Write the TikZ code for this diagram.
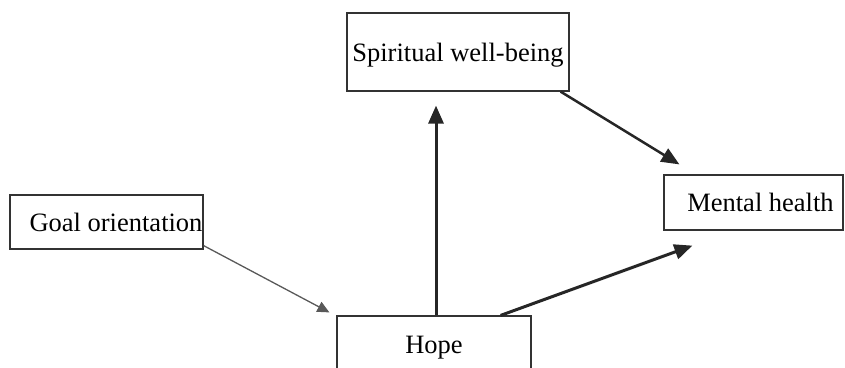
\documentclass[tikz,border=0pt]{standalone}
\usepackage{fontspec}
\setmainfont{Liberation Serif}
\usetikzlibrary{arrows.meta}

\begin{document}
\begin{tikzpicture}[x=1pt, y=-1pt, >={Triangle[length=18pt, width=15pt]},
	box/.style={draw=black!80, line width=1.2pt, inner sep=0pt, text height=18pt, text depth=0pt, font=\fontsize{26.5}{30}\selectfont}]
	\useasboundingbox (0, 0) rectangle (845, 367);

	\node[box, minimum width=222pt, minimum height=78pt] (SW) at (458, 52) {Spiritual well-being};
	\node[box, minimum width=193pt, minimum height=54pt] (GO) at (106.5, 222) {\hspace*{19pt}Goal orientation};
	\node[box, minimum width=179pt, minimum height=55pt] (MH) at (753.5, 202.5) {\hspace*{14pt}Mental health};
	\node[box, minimum width=194pt, minimum height=56pt] (H) at (434, 344) {Hope};

	\draw[->, line width=3pt, black!85, shorten >=14pt] ([xshift=2pt]H.north) -- ([xshift=2pt]H.north |- SW.south);
	\draw[-{Triangle[length=12pt, width=11pt]}, line width=1.3pt, black!65] ([yshift=4pt]GO.south east) -- ([xshift=-7pt, yshift=3pt]H.north west);
	\draw[->, line width=2.5pt, black!85] ([xshift=-9pt]SW.south east) -- ([xshift=16pt, yshift=10pt]MH.north west);
	\draw[->, line width=3pt, black!85] ([xshift=-31pt]H.north east) -- ([xshift=29pt, yshift=-15pt]MH.south west);
\end{tikzpicture}
\end{document}
